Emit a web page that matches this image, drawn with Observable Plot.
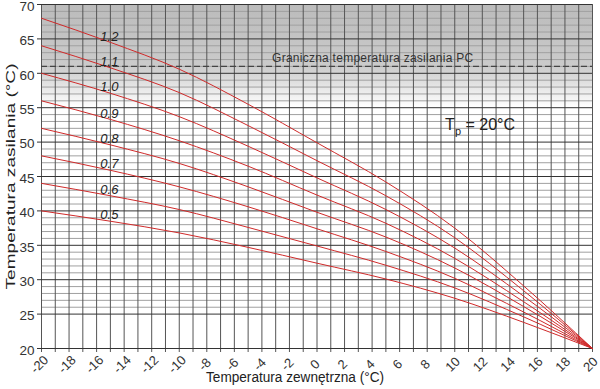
<!DOCTYPE html>
<html><head><meta charset="utf-8">
<script src="https://cdn.jsdelivr.net/npm/d3@7"></script>
<script src="https://cdn.jsdelivr.net/npm/@observablehq/plot@0.6"></script>
<style>
html,body{margin:0;padding:0;background:#fff;}
</style></head>
<body><div id="chart"></div>
<script>
// outdoor temperatures at which the curves were read
const outdoorTemps = [-20, -15, -10, -5, 0, 5, 10, 15, 20];
const curveNames = ["1.2", "1.1", "1.0", "0.9", "0.8", "0.7", "0.6", "0.5"];
const curve12 = [68, 64.5, 60.6, 55.5, 49.9, 44.2, 37.5, 29.1, 20];
const curve11 = [64, 60.8, 57.2, 52.4, 47.3, 42.2, 36.1, 28.4, 20];
const curve10 = [60, 57.1, 53.7, 49.4, 44.8, 40.2, 34.6, 27.6, 20];
const curve09 = [56, 53.3, 50.2, 46.5, 42.3, 38.2, 33.1, 26.8, 20];
const curve08 = [52, 49.6, 46.9, 43.5, 39.8, 36.2, 31.7, 26.1, 20];
const curve07 = [48, 45.9, 43.5, 40.6, 37.4, 34.1, 30.2, 25.3, 20];
const curve06 = [44, 42.2, 40.2, 37.6, 34.9, 32.1, 28.8, 24.6, 20];
const curve05 = [40, 38.5, 36.8, 34.7, 32.4, 30.1, 27.3, 23.8, 20];

const xTickLabels = [-20, -18, -16, -14, -12, -10, -8, -6, -4, -2, 0, 2, 4, 6, 8, 10, 12, 14, 16, 18, 20];
const yTickLabels = [20, 25, 30, 35, 40, 45, 50, 55, 60, 65, 70];
const limitTemp = [61];
const limitLabel = ["Graniczna temperatura zasilania PC"];
const roomLabel = ["Tp = 20°C"];
const xTitle = ["Temperatura zewnętrzna (°C)"];
const yTitle = ["Temperatura zasilania (°C)"];

const series = [curve12, curve11, curve10, curve09, curve08, curve07, curve06, curve05];
const rows = curveNames.flatMap((name, i) => series[i].map((v, j) => ({name, x: outdoorTemps[j], y: v})));
const labelRows = curveNames.map((name, i) => ({name, x: outdoorTemps[1], y: series[i][1]}));

const xGrid = d3.range(-20, 21);
const yMajor = yTickLabels;
const yMinor = d3.range(26, 70).filter(v => v % 5 !== 0);

const gradientDefs = () => {
  const defs = d3.create("svg:defs");
  const lg = defs.append("linearGradient").attr("id", "hotband")
    .attr("x1", "0").attr("y1", "0").attr("x2", "0").attr("y2", "1");
  lg.append("stop").attr("offset", "0%").attr("stop-color", "#bbbbbb");
  lg.append("stop").attr("offset", "60%").attr("stop-color", "#cbcbcb");
  lg.append("stop").attr("offset", "100%").attr("stop-color", "#ffffff");
  return defs.node();
};

const chart = Plot.plot({
  width: 600,
  height: 389,
  marginLeft: 41,
  marginRight: 8,
  marginTop: 4,
  marginBottom: 41,
  x: {domain: [-20, 20], axis: null},
  y: {domain: [20, 70], axis: null},
  style: {fontFamily: "'Liberation Sans', Arial, sans-serif", background: "#fff", color: "#333"},
  marks: [
    gradientDefs,
    Plot.rect([0], {x1: () => -20, x2: () => 20, y1: () => 55, y2: () => 70, fill: "url(#hotband)"}),
    Plot.ruleY(yMinor, {stroke: "#a0a0a0", strokeWidth: 1}),
    Plot.ruleX(xGrid, {stroke: "#555", strokeWidth: 1, insetBottom: -4}),
    Plot.ruleY(yMajor, {stroke: "#333", strokeWidth: 1, insetLeft: -4}),
    Plot.ruleY(limitTemp, {stroke: "#444", strokeWidth: 1.3, strokeDasharray: "6,3"}),
    Plot.text(limitLabel, {x: () => 4, y: () => limitTemp[0], dy: -8, text: d => d, fontSize: 12, fill: "#333"}),
    Plot.line(rows, {x: "x", y: "y", z: "name", stroke: "#d02a2a", strokeWidth: 1, curve: "monotone-x"}),
    Plot.text(labelRows, {x: "x", y: "y", text: "name", dy: -6, dx: -1, fontSize: 13, fontStyle: "italic", fill: "#222"}),
    Plot.text(roomLabel, {x: () => 9.3, y: () => 52.5, text: d => d, textAnchor: "start", fontSize: 16, fill: "#222"}),
    Plot.text(xTickLabels, {x: d => d, frameAnchor: "bottom", dy: 19, dx: 1, rotate: -45, text: d => String(d), fontSize: 13, fill: "#333"}),
    Plot.text(yTickLabels, {y: d => d, frameAnchor: "left", dx: -7, dy: 2, textAnchor: "end", text: d => String(d), fontSize: 13.5, fill: "#333"}),
    Plot.text(xTitle, {frameAnchor: "bottom", dy: 33, dx: -22, text: d => d, fontSize: 14, fill: "#222"}),
    Plot.text(yTitle, {frameAnchor: "left", dx: -31, rotate: -90, text: d => d, fontSize: 13, fill: "#222"})
  ]
});

// fine typographic adjustments
d3.select(chart).selectAll("text").each(function() {
  const t = this.textContent;
  if (t === yTitle[0]) {
    this.setAttribute("text-anchor", "start");
    this.setAttribute("x", -113);
    this.setAttribute("textLength", 226);
    this.setAttribute("lengthAdjust", "spacingAndGlyphs");
  }
  if (t === xTitle[0]) {
    this.setAttribute("text-anchor", "start");
    this.setAttribute("x", -89);
    this.setAttribute("textLength", 178);
    this.setAttribute("lengthAdjust", "spacingAndGlyphs");
  }
  if (t === limitLabel[0]) {
    this.setAttribute("text-anchor", "start");
    this.setAttribute("x", -100);
    this.setAttribute("textLength", 201);
    this.setAttribute("lengthAdjust", "spacing");
  }
  if (t === roomLabel[0]) {
    this.textContent = "";
    const s = d3.select(this);
    s.append("tspan").text("T");
    s.append("tspan").attr("dy", 5).attr("font-size", 11).text("p");
    s.append("tspan").attr("dy", -5).text(" = 20°C");
  }
});

document.getElementById("chart").appendChild(chart);
</script>
</body></html>
